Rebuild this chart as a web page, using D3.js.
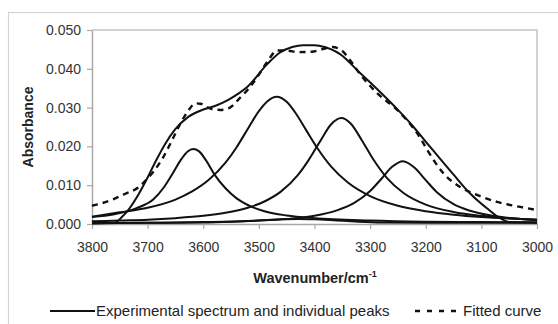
<!DOCTYPE html>
<html>
<head>
<meta charset="utf-8">
<script src="https://cdn.jsdelivr.net/npm/d3@7"></script>
<style>
  body { margin: 0; background: #fff; }
  svg { display: block; font-family: Arial, "Liberation Sans", sans-serif; }
</style>
</head>
<body>
<div id="chart-area"></div>
<script>
// axis ticks
const xTicks = [3800, 3700, 3600, 3500, 3400, 3300, 3200, 3100, 3000];
const yTicks = [0, 0.01, 0.02, 0.03, 0.04, 0.05];

// [wavenumber, absorbance]
const experimental = [[3800,0.0002],[3760,0.0003],[3745,0.0020],[3735,0.0036],[3717,0.0075],[3700,0.0120],[3685,0.0163],[3669,0.0205],[3651,0.0243],[3627,0.0276],[3600,0.0295],[3579,0.0304],[3555,0.0320],[3537,0.0336],[3521,0.0353],[3485,0.0412],[3462,0.0442],[3440,0.0456],[3421,0.0461],[3400,0.0461],[3390,0.0459],[3354,0.0438],[3318,0.0389],[3282,0.0340],[3250,0.0294],[3223,0.0252],[3200,0.0212],[3174,0.0168],[3150,0.0127],[3126,0.0087],[3100,0.0052],[3085,0.0035],[3070,0.0018],[3049,0.0005],[3000,0.0004]];

const fitted = [[3800,0.0047],[3786,0.0052],[3760,0.0065],[3740,0.0078],[3717,0.0094],[3700,0.0118],[3690,0.0134],[3672,0.0172],[3654,0.0222],[3640,0.0262],[3627,0.0292],[3614,0.0311],[3605,0.0310],[3595,0.0302],[3580,0.0295],[3568,0.0294],[3552,0.0300],[3534,0.0325],[3516,0.0353],[3500,0.0385],[3485,0.0418],[3467,0.0447],[3450,0.0447],[3430,0.0443],[3405,0.0444],[3385,0.0451],[3368,0.0456],[3350,0.0446],[3335,0.0420],[3318,0.0386],[3288,0.0338],[3250,0.0292],[3210,0.0222],[3196,0.0188],[3169,0.0132],[3139,0.0096],[3108,0.0075],[3072,0.0057],[3030,0.0044],[3000,0.0036]];

// individual fitted peaks
const peak1 = [[3800,0.0018],[3760,0.0025],[3720,0.0041],[3690,0.0063],[3670,0.0096],[3655,0.0130],[3640,0.0166],[3628,0.0187],[3618,0.0193],[3608,0.0188],[3595,0.0164],[3580,0.0128],[3560,0.0092],[3540,0.0066],[3520,0.0049],[3490,0.0033],[3450,0.0022],[3400,0.0015],[3300,0.0009],[3200,0.0006],[3100,0.0005],[3000,0.0004]];

const peak2 = [[3800,0.0019],[3750,0.0030],[3700,0.0042],[3650,0.0063],[3620,0.0084],[3590,0.0114],[3560,0.0158],[3540,0.0198],[3520,0.0245],[3500,0.0291],[3485,0.0316],[3468,0.0328],[3450,0.0315],[3435,0.0288],[3415,0.0242],[3395,0.0196],[3370,0.0148],[3340,0.0107],[3300,0.0072],[3250,0.0047],[3200,0.0033],[3150,0.0024],[3100,0.0018],[3050,0.0014],[3000,0.0011]];

const peak3 = [[3800,0.0007],[3750,0.0009],[3700,0.0011],[3650,0.0015],[3600,0.0021],[3560,0.0029],[3520,0.0042],[3490,0.0058],[3460,0.0084],[3430,0.0126],[3410,0.0166],[3390,0.0213],[3370,0.0257],[3352,0.0273],[3335,0.0259],[3315,0.0216],[3295,0.0168],[3270,0.0119],[3240,0.0080],[3200,0.0050],[3150,0.0031],[3100,0.0021],[3050,0.0015],[3000,0.0011]];

const peak4 = [[3800,0.0002],[3700,0.0003],[3600,0.0005],[3500,0.0009],[3450,0.0013],[3400,0.0021],[3360,0.0035],[3330,0.0053],[3300,0.0085],[3280,0.0116],[3260,0.0148],[3241,0.0162],[3220,0.0145],[3200,0.0113],[3180,0.0082],[3150,0.0051],[3120,0.0034],[3080,0.0021],[3040,0.0014],[3000,0.0010]];

const peak5 = [[3800,0.0002],[3700,0.0003],[3600,0.0004],[3550,0.0006],[3500,0.0009],[3460,0.0012],[3430,0.0013],[3400,0.0012],[3360,0.0009],[3320,0.0006],[3280,0.0004],[3200,0.0003],[3100,0.0003],[3000,0.0003]];

const solidSeries = [peak5, peak4, peak3, peak2, peak1, experimental];

const WIDTH = 558, HEIGHT = 324;
const MARGIN = { LEFT: 92, RIGHT: 21, TOP: 30, BOTTOM: 100 };
const AXIS_GREY = "#a8a8a8";

const svg = d3.select("#chart-area")
  .append("svg")
    .attr("width", WIDTH)
    .attr("height", HEIGHT);

// outer frame of the figure (runs past the picture edge)
svg.append("rect")
  .attr("x", 8.5).attr("y", 12.5)
  .attr("width", 700).attr("height", 400)
  .attr("fill", "#fff")
  .attr("stroke", "#d4d4d4")
  .attr("stroke-width", 1.2);

const x = d3.scaleLinear()
  .domain([3800, 3000])
  .range([MARGIN.LEFT, WIDTH - MARGIN.RIGHT]);

const y = d3.scaleLinear()
  .domain([0, 0.05])
  .range([HEIGHT - MARGIN.BOTTOM, MARGIN.TOP]);

// plot area border (top and right)
svg.append("path")
  .attr("d", `M${x(3800)},${y(0.05)}H${x(3000)}V${y(0)}`)
  .attr("fill", "none")
  .attr("stroke", "#c4c4c4")
  .attr("stroke-width", 1.5);

const xAxisGroup = svg.append("g")
  .attr("transform", `translate(0, ${y(0)})`)
  .call(d3.axisBottom(x).tickValues(xTicks).tickFormat(d3.format("d")).tickSize(5).tickSizeOuter(0).tickPadding(13));

const yAxisGroup = svg.append("g")
  .attr("transform", `translate(${x(3800)}, 0)`)
  .call(d3.axisLeft(y).tickValues(yTicks).tickFormat(d3.format(".3f")).tickSize(5).tickSizeOuter(0).tickPadding(6));

[xAxisGroup, yAxisGroup].forEach(g => {
  g.select(".domain").attr("stroke", AXIS_GREY).attr("stroke-width", 1.5);
  g.selectAll(".tick line").attr("stroke", AXIS_GREY).attr("stroke-width", 1.2);
  g.selectAll("text")
    .attr("font-size", "14px")
    .attr("font-family", "Arial, 'Liberation Sans', sans-serif")
    .attr("fill", "#333");
});

const line = d3.line()
  .x(d => x(d[0]))
  .y(d => y(d[1]))
  .curve(d3.curveMonotoneX);

// peaks + experimental spectrum
svg.append("g")
  .selectAll("path")
  .data(solidSeries)
  .enter()
  .append("path")
    .attr("d", line)
    .attr("fill", "none")
    .attr("stroke", "#111")
    .attr("stroke-width", 2);

// fitted curve
svg.append("path")
  .datum(fitted)
  .attr("d", line)
  .attr("fill", "none")
  .attr("stroke", "#111")
  .attr("stroke-width", 2.4)
  .attr("stroke-dasharray", "6,5");

// axis labels
svg.append("text")
  .attr("transform", `translate(33, ${(y(0) + y(0.05)) / 2}) rotate(-90)`)
  .attr("text-anchor", "middle")
  .attr("font-size", "14px")
  .attr("font-weight", "bold")
  .attr("fill", "#222")
  .text("Absorbance");

const xLabel = svg.append("text")
  .attr("x", 315)
  .attr("y", 283)
  .attr("text-anchor", "middle")
  .attr("font-size", "14.5px")
  .attr("font-weight", "bold")
  .attr("fill", "#222");
xLabel.append("tspan").text("Wavenumber/cm");
xLabel.append("tspan").attr("dy", -6).attr("font-size", "9px").text("-1");

// legend
const legend = svg.append("g").attr("fill", "#222").attr("font-size", "15px");
legend.append("line")
  .attr("x1", 50).attr("x2", 95).attr("y1", 311).attr("y2", 311)
  .attr("stroke", "#111").attr("stroke-width", 2);
legend.append("text").attr("x", 96).attr("y", 316).text("Experimental spectrum and individual peaks");
legend.append("line")
  .attr("x1", 415).attr("x2", 460).attr("y1", 311).attr("y2", 311)
  .attr("stroke", "#111").attr("stroke-width", 2.4).attr("stroke-dasharray", "5,7");
legend.append("text").attr("x", 463).attr("y", 316).text("Fitted curve");
</script>
</body>
</html>
